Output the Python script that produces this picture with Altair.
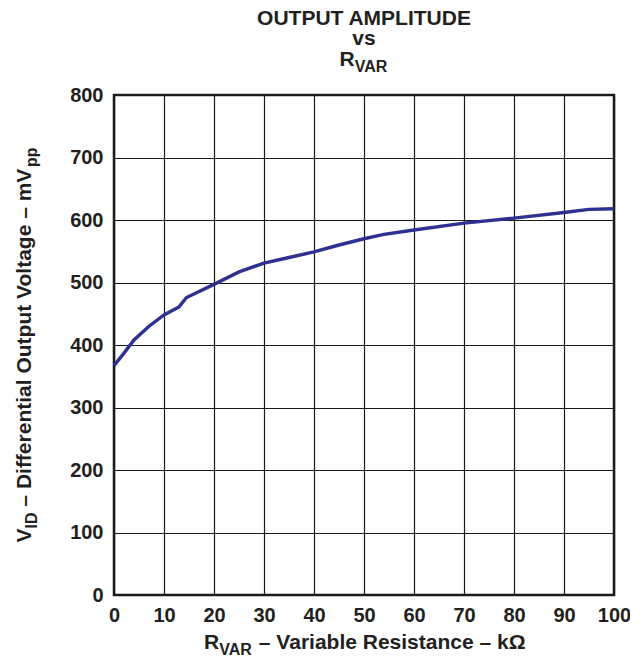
import altair as alt
import pandas as pd

# ---- data ----
r_var = [0, 2, 4, 7, 10, 13, 14.5, 20, 25, 30, 35, 40, 45, 50, 54, 60, 70, 80, 90, 95, 100]
v_id = [367, 387, 408, 430, 448, 461, 476, 497, 517, 531, 540, 549, 560, 570, 577, 584, 595, 603, 612, 617, 618]
x_ticks = list(range(0, 101, 10))
y_ticks = list(range(0, 801, 100))

df = pd.DataFrame({"r": r_var, "v": v_id})

FONT = "Liberation Sans"
INK = "#231f20"
MAIN = 21
SUB = 16
DROP = 5.5

# Arial/Liberation Sans Bold advance widths (1/1000 em) for text layout
W = {" ": 278, "–": 556, "A": 722, "D": 722, "E": 667, "I": 278, "L": 611, "M": 833,
     "O": 778, "P": 667, "R": 722, "T": 611, "U": 722, "V": 667,
     "a": 556, "b": 611, "c": 556, "e": 556, "f": 333, "g": 611, "i": 278, "k": 556,
     "l": 278, "m": 889, "n": 611, "o": 611, "p": 611, "r": 389, "s": 556, "t": 333,
     "u": 611, "v": 556, "Ω": 768}


def tw(s, size):
    return sum(W.get(c, 600) for c in s) * size / 1000.0


def piece(txt, x, y, size, angle=0, align="left"):
    kw = dict(text=txt, font=FONT, fontWeight="bold", fontSize=size, color=INK,
              align=align, baseline="alphabetic")
    if angle:
        kw["angle"] = angle
    return alt.Chart(pd.DataFrame({"k": [0]})).mark_text(**kw).encode(
        x=alt.value(x), y=alt.value(y))


# parts: (text, is_subscript, leading gap in spaces of main size)
def seg_w(txt, sub, gap):
    return gap * tw(" ", MAIN) + tw(txt, SUB if sub else MAIN)


def rich_h(parts, x0, y0):
    out = []
    x = x0
    for txt, sub, gap in parts:
        size = SUB if sub else MAIN
        x += gap * tw(" ", MAIN)
        out.append(piece(txt, x, y0 + (DROP if sub else 0), size))
        x += tw(txt, size)
    return out


def rich_v(parts, x0, y0):
    out = []
    y = y0
    for txt, sub, gap in parts:
        size = SUB if sub else MAIN
        y -= gap * tw(" ", MAIN)
        out.append(piece(txt, x0 + (DROP if sub else 0), y, size, angle=270))
        y -= tw(txt, size)
    return out


def width_of(parts):
    return sum(seg_w(*p) for p in parts)


line = alt.Chart(df).mark_line(color="#2e3192", strokeWidth=3.4).encode(
    x=alt.X("r:Q", scale=alt.Scale(domain=[0, 100], nice=False),
            axis=alt.Axis(values=x_ticks, title="", format="d", labelFlush=False)),
    y=alt.Y("v:Q", scale=alt.Scale(domain=[0, 800], nice=False),
            axis=alt.Axis(values=y_ticks, title="", format="d", labelFlush=False)),
)

cx = 250
texts = []
texts.append(piece("OUTPUT AMPLITUDE", cx, -70, MAIN, align="center"))
texts.append(piece("vs", cx, -50, MAIN, align="center"))
title3 = [("R", False, 0), ("VAR", True, 0)]
texts += rich_h(title3, cx - width_of(title3) / 2, -29)

xlab = [("R", False, 0), ("VAR", True, 0), ("– Variable Resistance – kΩ", False, 1)]
texts += rich_h(xlab, 251 - width_of(xlab) / 2, 554)

ylab = [("V", False, 0), ("ID", True, 0),
        ("– Differential Output Voltage – mV", False, 1), ("pp", True, 0)]
texts += rich_v(ylab, -83, 250 + width_of(ylab) / 2)

chart = alt.layer(line, *texts).properties(
    width=500, height=500,
    autosize=alt.AutoSizeParams(type="none"),
    padding={"left": 106, "top": 87, "right": 16, "bottom": 61},
    background="white",
).configure_view(
    stroke="#1a1a1a", strokeWidth=2.5
).configure_axis(
    grid=True, gridColor="#1a1a1a", gridWidth=1.2, gridOpacity=1,
    domain=False, ticks=False,
    labelFont=FONT, labelFontWeight="bold", labelFontSize=20, labelColor=INK,
    labelPadding=11,
).configure_axisX(labelPadding=10)

chart.save("out.html", embed_options={"renderer": "svg", "actions": False})
